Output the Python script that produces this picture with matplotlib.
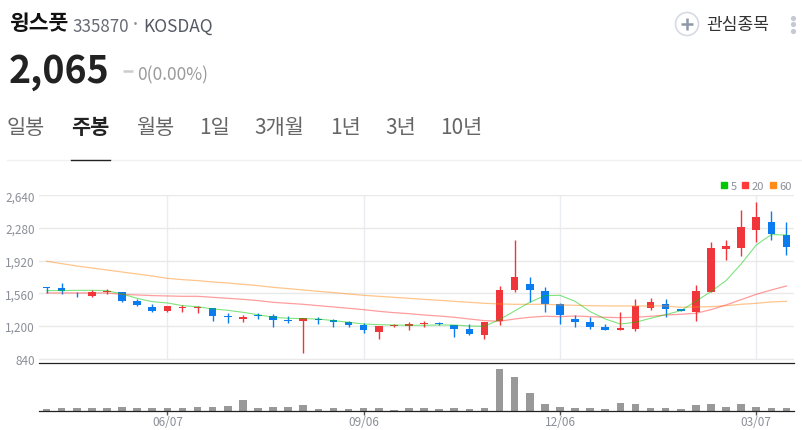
import matplotlib
matplotlib.use("Agg")
import matplotlib.pyplot as plt
from matplotlib.patches import Circle, Patch

plt.rcParams['font.family'] = ['Noto Sans CJK KR', 'DejaVu Sans']

# weekly candles, oldest first
opens = [1626,1619,1568,1535,1575,1571,1476,1410,1366,1395,1399,1395,1314,1281,1325,1307,1266,1255,1281,1266,
         1248,1211,1134,1204,1204,1222,1230,1211,1164,1105,1251,1597,1667,1590,1446,1277,1244,1189,1160,1167,
         1395,1446,1388,1355,1576,2049,2063,2262,2343,2203]
highs = [1626,1674,1579,1593,1608,1571,1498,1439,1421,1432,1424,1395,1340,1321,1340,1329,1310,1288,1296,1277,
         1259,1233,1204,1222,1241,1259,1241,1211,1222,1248,1641,2144,1740,1630,1454,1321,1299,1226,1354,1498,
         1505,1498,1388,1648,2126,2148,2475,2567,2464,2346]
lows = [1560,1557,1520,1520,1553,1465,1421,1358,1351,1358,1347,1259,1237,1248,1281,1193,1237,903,1226,1189,
        1193,1127,1057,1186,1156,1186,1211,1083,1101,1057,1215,1579,1461,1355,1226,1189,1171,1153,1160,1149,
        1377,1303,1366,1255,1576,1928,1972,2130,2148,1983]
closes = [1622,1586,1560,1575,1590,1480,1432,1366,1421,1410,1410,1314,1299,1299,1310,1263,1255,1288,1270,1248,
          1211,1156,1204,1211,1222,1230,1219,1171,1112,1244,1597,1740,1593,1446,1325,1248,1193,1160,1178,1421,
          1465,1391,1369,1586,2060,2082,2288,2398,2218,2065]

ma5 = [1590,1590,1593,1593,1590,1553,1505,1468,1454,1424,1413,1388,1373,1351,1325,1296,1285,1281,1277,1259,
       1241,1222,1215,1211,1208,1208,1211,1211,1200,1197,1270,1366,1461,1535,1538,1472,1358,1277,1222,1241,
       1285,1325,1369,1472,1579,1700,1883,2093,2207,2203]
ma20 = [1564,1564,1564,1564,1564,1549,1542,1535,1531,1527,1527,1516,1505,1494,1480,1461,1450,1439,1424,1410,
        1395,1380,1362,1347,1336,1321,1310,1296,1277,1259,1252,1277,1296,1307,1303,1310,1303,1296,1292,1296,
        1307,1321,1329,1340,1380,1432,1490,1549,1597,1641]
ma60 = [1913,1887,1861,1839,1817,1795,1773,1751,1725,1711,1700,1685,1674,1659,1645,1626,1612,1597,1582,1568,
        1553,1538,1527,1516,1505,1494,1483,1472,1461,1450,1443,1439,1439,1439,1432,1428,1424,1421,1421,1421,
        1421,1421,1406,1410,1413,1424,1439,1450,1465,1472]
volumes = [5,7,7,7,7,10,7,7,7,7,10,10,13,30,7,10,10,15,5,7,5,8,8,1,7,7,5,7,5,8,124,100,52,19,10,7,8,5,23,20,
           6,7,3,15,19,10,19,10,8,8]

price_ticks = [840,1200,1560,1920,2280,2640]
price_labels = ['840','1,200','1,560','1,920','2,280','2,640']
date_idx = [8,21,34,47]
date_labels = ['06/07','09/06','12/06','03/07']

UP = '#f0363a'
DOWN = '#0a7cf0'
W, H = 802, 431

fig = plt.figure(figsize=(W/100, H/100), dpi=100)

def px_axes(l, t, r, b):
    return fig.add_axes([l/W, 1-b/H, (r-l)/W, (b-t)/H])

# header drawn in pixel coords
bg = fig.add_axes([0,0,1,1])
bg.set_xlim(0,W); bg.set_ylim(H,0); bg.axis('off')
bg.text(9,24,'윙스풋',fontsize=15.5,fontweight='bold',color='#111111',va='center')
bg.text(72,27,'335870',fontsize=12.2,color='#666b75',va='center')
bg.text(135,24,'·',fontsize=11,color='#8a8f98',va='center',ha='center',fontweight='bold')
bg.text(143,27,'KOSDAQ',fontsize=12.5,color='#555a64',va='center')
bg.text(9,83,'2,065',fontsize=27,fontweight='bold',color='#222222',va='baseline')
bg.plot([123,133],[72,72],color='#cccccc',lw=1.8,solid_capstyle='butt')
bg.text(137,75,'0(0.00%)',fontsize=12.5,color='#999999',va='center')

tabs = ['일봉','주봉','월봉','1일','3개월','1년','3년','10년']
tab_x = [7,71,136,199,254,330,385,440]
for t,x in zip(tabs,tab_x):
    if t == '주봉':
        bg.text(x,128,t,fontsize=15,fontweight='bold',color='#222222',va='center')
    else:
        bg.text(x,128,t,fontsize=15,color='#666666',va='center')
bg.plot([7,W],[160.5,160.5],color='#f0f0f0',lw=1)
bg.plot([71,110],[160.5,160.5],color='#222222',lw=1)

bg.add_patch(Circle((687,25),11.5,fc='white',ec='#d6dbe1',lw=1.2))
bg.plot([681,693],[25,25],color='#8d99a8',lw=1.8,solid_capstyle='butt')
bg.plot([687,687],[19,31],color='#8d99a8',lw=1.8,solid_capstyle='butt')
bg.text(706,25,'관심종목',fontsize=12.3,color='#333333',va='center')
bg.scatter([792.7]*3,[18.7,25,31.7],s=14,color='#c5c9d2',lw=0)

# price pane
ax = px_axes(39,196.3,794,364.3)
ax.set_xlim(-0.5,49.5)
ax.set_ylim(789,2640)
ax.patch.set_alpha(0)
for s in ['top','left','right']:
    ax.spines[s].set_visible(False)
ax.spines['bottom'].set_color('#222222')
ax.spines['bottom'].set_linewidth(0.9)
ax.set_xticks([])
ax.set_yticks(price_ticks)
ax.set_yticklabels(price_labels,fontsize=8.5,color='#8b8f98')
ax.tick_params(axis='y',length=0,pad=3)
ax.set_axisbelow(True)
ax.grid(axis='y',color='#e9e9e9',lw=1)
ax.vlines(date_idx,840,2640,color='#e9edf1',lw=1,zorder=0)

xs = list(range(len(opens)))
for i in xs:
    col = UP if closes[i] >= opens[i] else DOWN
    ax.vlines(i,lows[i],highs[i],color=col,lw=1,zorder=3)
    bottom = min(opens[i],closes[i])
    ax.bar(i,max(abs(closes[i]-opens[i]),8),bottom=bottom,width=0.5,color=col,lw=0,zorder=3)

ax.plot(xs,ma60,color='#ff8c1a',lw=0.9,alpha=0.5,zorder=4)
ax.plot(xs,ma20,color='#ff3b3b',lw=0.9,alpha=0.5,zorder=4)
ax.plot(xs,ma5,color='#00c800',lw=0.8,alpha=0.5,zorder=4)

handles = [Patch(color='#00c800',label='5'),Patch(color='#ff3b3b',label='20'),Patch(color='#ff8c1a',label='60')]
ax.legend(handles=handles,ncol=3,frameon=False,loc='lower right',bbox_to_anchor=(0.9995,1.012),
          fontsize=8,labelcolor='#8b8f98',handlelength=0.55,handleheight=0.55,
          handletextpad=0.3,columnspacing=0.5,borderaxespad=0,borderpad=0.2)

# volume pane
vax = px_axes(39,364.3,794,411.5)
vax.set_xlim(-0.5,49.5)
vax.set_ylim(0,141)
vax.patch.set_alpha(0)
for s in ['top','left','right']:
    vax.spines[s].set_visible(False)
vax.spines['bottom'].set_color('#222222')
vax.spines['bottom'].set_linewidth(0.9)
vax.bar(xs,volumes,width=0.5,color='#999999',lw=0)
vax.set_yticks([])
vax.set_xticks(date_idx)
vax.set_xticklabels(date_labels,fontsize=8.5,color='#8b8f98')
vax.tick_params(axis='x',length=3,width=1,color='#555555',pad=0.5)

fig.savefig('out.png',dpi=100)
